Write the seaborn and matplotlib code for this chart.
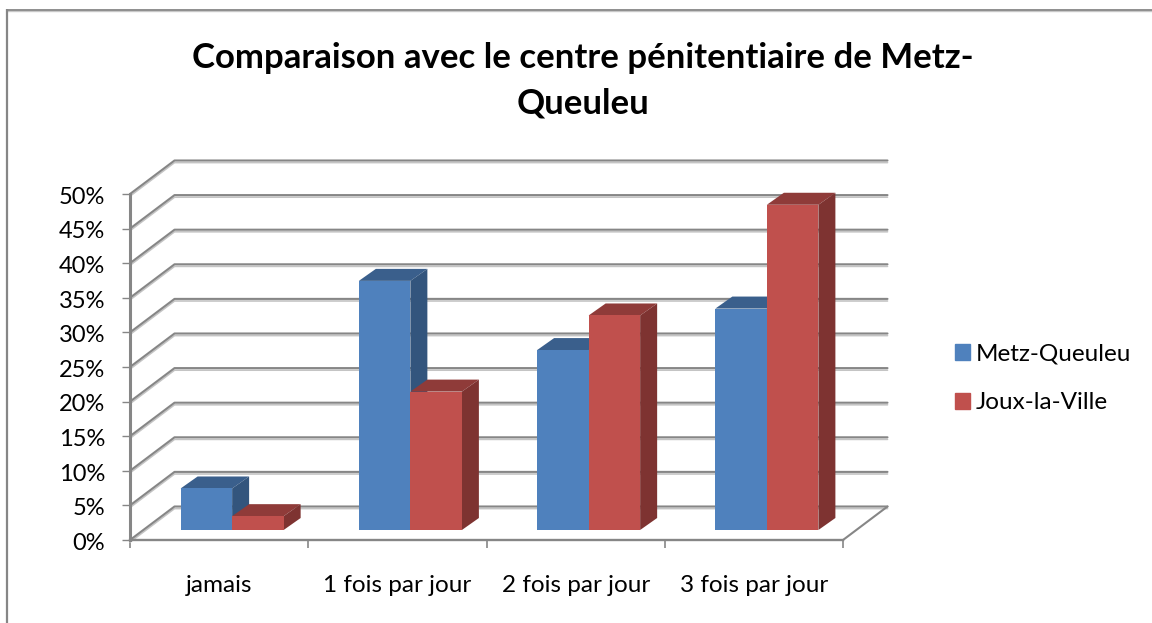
import matplotlib
matplotlib.use("Agg")
import matplotlib.pyplot as plt
import matplotlib.transforms as mtrans
import seaborn as sns
import pandas as pd
from matplotlib.lines import Line2D
from matplotlib.patches import Rectangle

categories = ["jamais", "1 fois par jour", "2 fois par jour", "3 fois par jour"]
metz_queuleu = [6, 36, 26, 32]
joux_la_ville = [2, 20, 31, 47]
y_ticks = [0, 5, 10, 15, 20, 25, 30, 35, 40, 45, 50]
y_labels = ["0%", "5%", "10%", "15%", "20%", "25%", "30%", "35%", "40%", "45%", "50%"]
title = "Comparaison avec le centre pénitentiaire de Metz-\nQueuleu"

W, H = 1152, 623

df = pd.DataFrame({
    "cat": categories * 2,
    "val": metz_queuleu + joux_la_ville,
    "serie": ["Metz-Queuleu"] * 4 + ["Joux-la-Ville"] * 4,
})

sns.set_theme(style="white")
plt.rcParams["font.family"] = ["Lato", "DejaVu Sans"]

fig = plt.figure(figsize=(W / 100, H / 100), dpi=100)


def px_axes(x0, y_top, x1, y_bottom):
    return fig.add_axes([x0 / W, 1 - y_bottom / H, (x1 - x0) / W, (y_bottom - y_top) / H])


def frame_line(xs, ys, col, lw):
    fig.add_artist(Line2D([x / W for x in xs], [1 - y / H for y in ys], color=col, lw=lw,
                          transform=fig.transFigure, solid_capstyle="butt"))


# chart frame, only top and left fall inside the picture
frame_line([7, W], [11, 11], "#c8c8c8", 1.0)
frame_line([6, W], [9.7, 9.7], "#868686", 1.3)
frame_line([7, 7], [9, H], "#868686", 1.6)

# walls and axis, front plane of the 3d box
ax = px_axes(130, 194, 843, 540)
ax.set_xlim(-0.5, 3.5)
ax.set_ylim(0, 50)
wall_dx = 44.5 / (713 / 4)
wall_dy = 33.5 / (346 / 50)
line_col = "#868686"
shadow_col = "#c4c4c4"
shadow_tr = ax.transData + mtrans.ScaledTranslation(0, -1.5 / 72, fig.dpi_scale_trans)

for v in y_ticks:
    ax.plot([-0.5, -0.5 + wall_dx, 3.5 + wall_dx], [v, v + wall_dy, v + wall_dy],
            color=shadow_col, lw=1.2, clip_on=False, zorder=1, transform=shadow_tr)
    ax.plot([-0.5, -0.5 + wall_dx, 3.5 + wall_dx], [v, v + wall_dy, v + wall_dy],
            color=line_col, lw=1.5, clip_on=False, zorder=1.1)
ax.plot([3.5, 3.5 + wall_dx], [0, wall_dy], color=line_col, lw=1.5, clip_on=False, zorder=1.1)

sns.despine(ax=ax, top=True, right=True)
ax.spines["left"].set_color(line_col)
ax.spines["left"].set_linewidth(2.2)
ax.spines["bottom"].set_color(line_col)
ax.spines["bottom"].set_linewidth(1.7)
ax.set_yticks(y_ticks, y_labels)
ax.set_xticks([-0.5, 0.5, 1.5, 2.5, 3.5], [])
ax.set_xticks([0, 1, 2, 3], categories, minor=True)
ax.tick_params(axis="y", which="major", left=True, length=5.8, width=1.0, color=line_col,
               labelsize=17, labelcolor="black", pad=12)
ax.tick_params(axis="x", which="major", bottom=True, length=5.8, width=1.2, color=line_col)
ax.tick_params(axis="x", which="minor", bottom=False, labelsize=17.5, labelcolor="black", pad=21.5)
nudge = mtrans.ScaledTranslation(0, -1 / 72, fig.dpi_scale_trans)
for lab in ax.get_yticklabels():
    lab.set_transform(lab.get_transform() + nudge)
ax.set_xlabel("")
ax.set_ylabel("")

# bars sit further back in the box
bx = px_axes(143, 184, 856, 530)
bx.patch.set_alpha(0)
palette = {"Metz-Queuleu": "#4f81bd", "Joux-la-Ville": "#c0504d"}
sns.barplot(data=df, x="cat", y="val", hue="serie", palette=palette, order=categories,
            width=0.578, gap=0, saturation=1, dodge=True, ax=bx, legend=False, linewidth=0)
bx.set_xlim(-0.5, 3.5)
bx.set_ylim(0, 50)
bx.axis("off")

depth_x = 17 / (713 / 4)
depth_y = 12 / (346 / 50)
tops = {0: "#3a5f8c", 1: "#8f3b39"}
sides = {0: "#33557d", 1: "#7e3331"}
for i, cont in enumerate(bx.containers):
    z = 3 + i
    for b in cont:
        x0, w, h = b.get_x(), b.get_width(), b.get_height()
        b.set_zorder(z + 0.5)
        bx.fill([x0, x0 + depth_x, x0 + w + depth_x, x0 + w], [h, h + depth_y, h + depth_y, h],
                color=tops[i], lw=0, clip_on=False, zorder=z)
        bx.fill([x0 + w, x0 + w + depth_x, x0 + w + depth_x, x0 + w], [0, depth_y, h + depth_y, h],
                color=sides[i], lw=0, clip_on=False, zorder=z)

# legend
handles = [Rectangle((0, 0), 1, 1, color=palette[s]) for s in ["Metz-Queuleu", "Joux-la-Ville"]]
fig.legend(handles, ["Metz-Queuleu", "Joux-la-Ville"], loc="center left",
           bbox_to_anchor=(955 / W, 1 - 378.5 / H), frameon=False, fontsize=17.5,
           handlelength=0.62, handleheight=0.62, handletextpad=0.25, labelspacing=1.13,
           labelcolor="black", borderaxespad=0, borderpad=0)

fig.text(583 / W, 1 - 81 / H, title, ha="center", va="center", fontsize=25, fontweight="bold",
         color="black", linespacing=1.53)

fig.savefig("out.png", dpi=100)
